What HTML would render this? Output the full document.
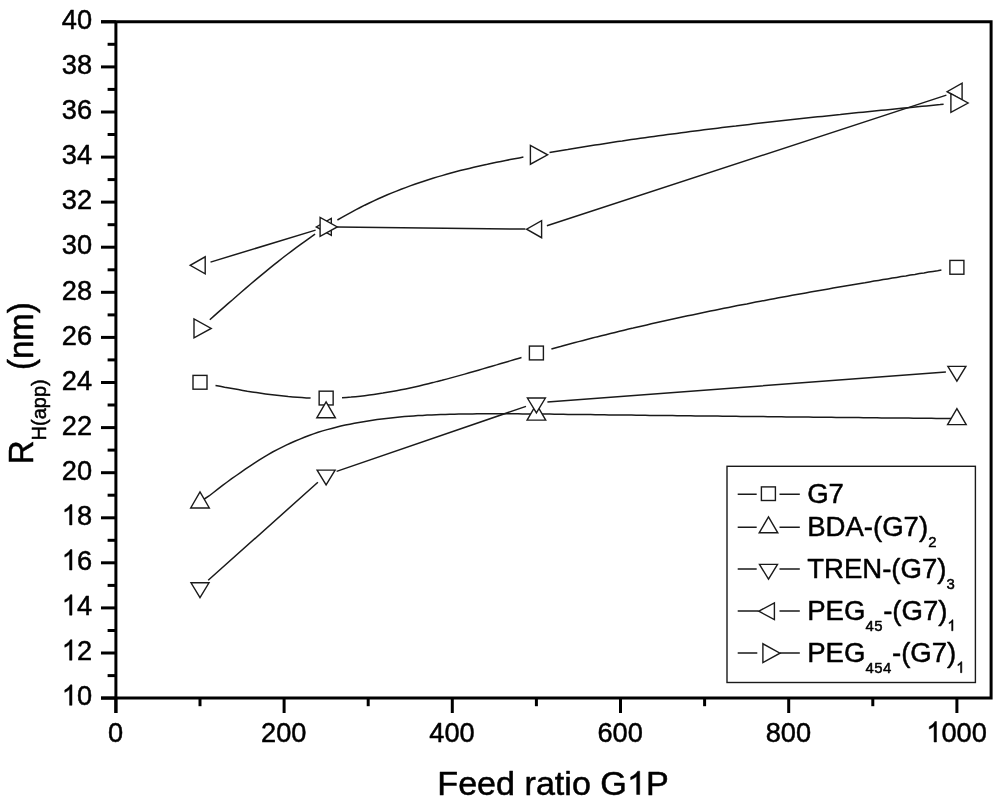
<!DOCTYPE html>
<html><head><meta charset="utf-8"><title>chart</title>
<style>
html,body{margin:0;padding:0;background:#fff;}
svg{display:block;will-change:transform;filter:grayscale(1);font-family:"Liberation Sans",sans-serif;font-kerning:none;}
.ax{stroke:#000;stroke-width:3;fill:none;stroke-linecap:butt}
.ln{stroke:#1a1a1a;stroke-width:1.5;fill:none}
.sy{stroke:#1a1a1a;stroke-width:1.4;fill:#fff;stroke-linejoin:miter}
.tx{fill:#000;stroke:#000;stroke-width:.5px;stroke-linejoin:round}
.tx path{vector-effect:non-scaling-stroke}
</style></head><body>
<svg width="1000" height="805" viewBox="0 0 1000 805">
<rect width="1000" height="805" fill="#fff"/>
<g>
<path class="ln" d="M215.5 385.5 L220.1 386.3 L224.6 387.2 L229.2 388.0 L233.7 388.8 L238.2 389.6 L242.8 390.4 L247.3 391.2 L251.9 391.9 L256.4 392.6 L261.0 393.3 L265.5 393.9 L270.0 394.5 L274.6 395.1 L279.1 395.6 L283.7 396.1 L288.2 396.6 L292.8 397.0 L297.3 397.3 L301.9 397.6 L306.4 397.9 L310.6 398.1 M342.0 397.7 L346.5 397.4 L351.1 397.1 L355.6 396.7 L360.2 396.2 L364.7 395.7 L369.3 395.1 L373.8 394.5 L378.3 393.8 L382.9 393.1 L387.4 392.3 L392.0 391.5 L396.5 390.7 L401.1 389.8 L405.6 388.9 L410.1 387.9 L414.7 386.9 L419.2 385.9 L423.8 384.8 L428.3 383.7 L432.9 382.6 L437.4 381.4 L442.0 380.3 L446.5 379.1 L451.0 377.9 L455.6 376.6 L460.1 375.4 L464.7 374.1 L469.2 372.8 L473.8 371.5 L478.3 370.2 L482.8 368.9 L487.4 367.5 L491.9 366.2 L496.5 364.9 L501.0 363.5 L505.6 362.2 L510.1 360.9 L514.6 359.5 L519.2 358.2 L521.5 357.5 M551.4 349.0 L555.9 347.7 L560.5 346.5 L565.0 345.2 L569.6 344.0 L574.1 342.8 L578.6 341.6 L583.2 340.4 L587.7 339.3 L592.3 338.1 L596.8 336.9 L601.4 335.8 L605.9 334.7 L610.4 333.5 L615.0 332.4 L619.5 331.3 L624.1 330.2 L628.6 329.1 L633.2 328.1 L637.7 327.0 L642.3 325.9 L646.8 324.9 L651.3 323.8 L655.9 322.8 L660.4 321.8 L665.0 320.8 L669.5 319.8 L674.1 318.8 L678.6 317.8 L683.1 316.8 L687.7 315.8 L692.2 314.9 L696.8 313.9 L701.3 313.0 L705.9 312.0 L710.4 311.1 L714.9 310.2 L719.5 309.2 L724.0 308.3 L728.6 307.4 L733.1 306.5 L737.7 305.6 L742.2 304.7 L746.8 303.9 L751.3 303.0 L755.8 302.1 L760.4 301.2 L764.9 300.4 L769.5 299.5 L774.0 298.7 L778.6 297.8 L783.1 297.0 L787.6 296.2 L792.2 295.3 L796.7 294.5 L801.3 293.7 L805.8 292.9 L810.4 292.1 L814.9 291.3 L819.5 290.5 L824.0 289.7 L828.5 288.9 L833.1 288.1 L837.6 287.3 L842.2 286.5 L846.7 285.8 L851.3 285.0 L855.8 284.2 L860.3 283.4 L864.9 282.7 L869.4 281.9 L874.0 281.1 L878.5 280.4 L883.1 279.6 L887.6 278.9 L892.2 278.1 L896.7 277.4 L901.2 276.6 L905.8 275.9 L910.3 275.1 L914.9 274.4 L919.4 273.6 L924.0 272.9 L928.5 272.1 L933.0 271.4 L937.6 270.7 L941.4 270.0"/>
<g class="sy"><rect x="193.00" y="375.39" width="14" height="13.8" /><rect x="319.15" y="391.17" width="14" height="13.8" /><rect x="529.40" y="346.09" width="14" height="13.8" /><rect x="949.90" y="260.42" width="14" height="13.8" /></g>
<path class="ln" d="M199.9 501.5 L204.4 499.0 L209.0 496.0 L213.5 492.5 L218.1 488.9 L222.6 485.4 L227.2 482.0 L231.7 478.7 L236.3 475.5 L240.8 472.3 L245.3 469.2 L249.9 466.1 L254.4 463.1 L259.0 460.1 L263.5 457.3 L268.1 454.6 L272.6 452.0 L277.2 449.6 L281.7 447.3 L286.2 445.1 L290.8 443.0 L295.3 441.0 L299.9 439.1 L304.4 437.3 L309.0 435.5 L313.5 433.9 L318.1 432.3 L322.6 430.9 L327.1 429.6 L331.7 428.4 L336.2 427.2 L340.8 426.1 L345.3 425.1 L349.9 424.2 L354.4 423.3 L358.9 422.5 L363.5 421.7 L368.0 420.9 L372.6 420.2 L377.1 419.6 L381.7 419.0 L386.2 418.4 L390.8 417.9 L395.3 417.5 L399.8 417.0 L404.4 416.6 L408.9 416.3 L413.5 415.9 L418.0 415.6 L422.6 415.4 L427.1 415.1 L431.7 414.9 L436.2 414.7 L440.7 414.6 L445.3 414.4 L449.8 414.3 L454.4 414.2 L458.9 414.1 L463.5 414.0 L468.0 413.9 L472.6 413.9 L477.1 413.8 L481.6 413.8 L486.2 413.8 L490.7 413.7 L495.3 413.7 L499.8 413.7 L504.4 413.8 L508.9 413.8 L513.5 413.8 L518.0 413.8 L522.5 413.9 L527.1 413.9 L531.6 414.0 L536.2 414.0 L540.7 414.0 L545.3 414.1 L549.8 414.1 L554.4 414.2 L558.9 414.2 L563.4 414.3 L568.0 414.4 L572.5 414.4 L577.1 414.5 L581.6 414.5 L586.2 414.6 L590.7 414.6 L595.3 414.7 L599.8 414.7 L604.3 414.8 L608.9 414.9 L613.4 414.9 L618.0 415.0 L622.5 415.0 L627.1 415.1 L631.6 415.1 L636.2 415.2 L640.7 415.3 L645.2 415.3 L649.8 415.4 L654.3 415.4 L658.9 415.5 L663.4 415.5 L668.0 415.6 L672.5 415.6 L677.0 415.7 L681.6 415.7 L686.1 415.8 L690.7 415.8 L695.2 415.9 L699.8 415.9 L704.3 416.0 L708.9 416.0 L713.4 416.1 L717.9 416.1 L722.5 416.2 L727.0 416.2 L731.6 416.3 L736.1 416.3 L740.7 416.4 L745.2 416.4 L749.8 416.5 L754.3 416.5 L758.8 416.6 L763.4 416.6 L767.9 416.7 L772.5 416.7 L777.0 416.8 L781.6 416.8 L786.1 416.9 L790.7 416.9 L795.2 417.0 L799.7 417.0 L804.3 417.1 L808.8 417.1 L813.4 417.2 L817.9 417.2 L822.5 417.3 L827.0 417.3 L831.6 417.3 L836.1 417.4 L840.6 417.4 L845.2 417.5 L849.7 417.5 L854.3 417.6 L858.8 417.6 L863.4 417.7 L867.9 417.7 L872.5 417.8 L877.0 417.8 L881.5 417.9 L886.1 417.9 L890.6 417.9 L895.2 418.0 L899.7 418.0 L904.3 418.1 L908.8 418.1 L913.4 418.2 L917.9 418.2 L922.4 418.3 L927.0 418.3 L931.5 418.3 L936.1 418.4 L940.6 418.4 L945.2 418.5 L949.7 418.5 L954.2 418.6 L956.9 418.6"/>
<g class="sy"><path d="M190.7 508.0 L209.3 508.0 L200.0 492.0 Z"/><path d="M316.8 417.8 L335.4 417.8 L326.1 401.8 Z"/><path d="M527.1 420.1 L545.7 420.1 L536.4 404.1 Z"/><path d="M947.6 424.6 L966.2 424.6 L956.9 408.6 Z"/></g>
<path class="ln" d="M208.2 580.3 L317.9 482.3 M336.6 471.4 L526.0 406.4 M547.4 402.0 L945.9 372.0"/>
<g class="sy"><path d="M191.0 582.8 L209.0 582.8 L200.0 597.6 Z"/><path d="M317.1 470.1 L335.1 470.1 L326.1 484.9 Z"/><path d="M527.4 398.0 L545.4 398.0 L536.4 412.8 Z"/><path d="M947.9 366.4 L965.9 366.4 L956.9 381.2 Z"/></g>
<path class="ln" d="M210.5 262.1 L315.6 230.1 M337.1 227.1 L525.4 229.1 M546.9 225.8 L946.4 95.1"/>
<g class="sy"><path d="M205.2 256.8 L205.2 273.8 L190.2 265.3 Z"/><path d="M331.3 218.4 L331.3 235.4 L316.3 226.9 Z"/><path d="M541.6 220.7 L541.6 237.7 L526.6 229.2 Z"/><path d="M962.1 83.2 L962.1 100.2 L947.1 91.7 Z"/></g>
<path class="ln" d="M209.8 319.7 L214.4 315.6 L218.9 311.6 L223.5 307.6 L228.0 303.6 L232.6 299.7 L237.1 295.7 L241.7 291.8 L246.2 287.9 L250.7 284.0 L255.3 280.2 L259.8 276.4 L264.4 272.6 L268.9 268.9 L273.5 265.2 L278.0 261.6 L282.5 258.0 L287.1 254.5 L291.6 251.1 L296.2 247.7 L300.7 244.3 L305.3 241.1 L309.8 237.9 L314.3 234.7 L315.1 234.2 M337.4 220.0 L342.0 217.4 L346.5 214.8 L351.1 212.3 L355.6 209.9 L360.2 207.5 L364.7 205.2 L369.3 203.0 L373.8 200.9 L378.3 198.8 L382.9 196.8 L387.4 194.8 L392.0 192.9 L396.5 191.1 L401.1 189.3 L405.6 187.6 L410.1 185.9 L414.7 184.3 L419.2 182.7 L423.8 181.2 L428.3 179.7 L432.9 178.3 L437.4 176.9 L442.0 175.6 L446.5 174.3 L451.0 173.0 L455.6 171.8 L460.1 170.6 L464.7 169.5 L469.2 168.4 L473.8 167.3 L478.3 166.3 L482.8 165.2 L487.4 164.3 L491.9 163.3 L496.5 162.3 L501.0 161.4 L505.6 160.5 L510.1 159.6 L514.6 158.8 L519.2 157.9 L523.4 157.1 M549.5 152.5 L554.0 151.8 L558.6 151.0 L563.1 150.2 L567.7 149.5 L572.2 148.7 L576.7 148.0 L581.3 147.2 L585.8 146.5 L590.4 145.8 L594.9 145.1 L599.5 144.4 L604.0 143.7 L608.6 143.0 L613.1 142.3 L617.6 141.6 L622.2 141.0 L626.7 140.3 L631.3 139.6 L635.8 139.0 L640.4 138.3 L644.9 137.7 L649.4 137.1 L654.0 136.4 L658.5 135.8 L663.1 135.2 L667.6 134.6 L672.2 134.0 L676.7 133.4 L681.3 132.8 L685.8 132.2 L690.3 131.6 L694.9 131.0 L699.4 130.4 L704.0 129.8 L708.5 129.3 L713.1 128.7 L717.6 128.2 L722.1 127.6 L726.7 127.0 L731.2 126.5 L735.8 126.0 L740.3 125.4 L744.9 124.9 L749.4 124.4 L753.9 123.8 L758.5 123.3 L763.0 122.8 L767.6 122.3 L772.1 121.8 L776.7 121.3 L781.2 120.8 L785.8 120.3 L790.3 119.8 L794.8 119.3 L799.4 118.8 L803.9 118.3 L808.5 117.8 L813.0 117.3 L817.6 116.8 L822.1 116.4 L826.6 115.9 L831.2 115.4 L835.7 114.9 L840.3 114.5 L844.8 114.0 L849.4 113.5 L853.9 113.1 L858.5 112.6 L863.0 112.2 L867.5 111.7 L872.1 111.2 L876.6 110.8 L881.2 110.3 L885.7 109.9 L890.3 109.4 L894.8 109.0 L899.3 108.5 L903.9 108.1 L908.4 107.7 L913.0 107.2 L917.5 106.8 L922.1 106.3 L926.6 105.9 L931.2 105.4 L935.7 105.0 L940.2 104.6 L943.6 104.2"/>
<g class="sy"><path d="M194.0 319.0 L194.0 337.8 L211.2 328.4 Z"/><path d="M320.1 217.5 L320.1 236.3 L337.3 226.9 Z"/><path d="M530.4 145.4 L530.4 164.2 L547.6 154.8 Z"/><path d="M950.9 93.6 L950.9 112.4 L968.1 103.0 Z"/></g>
</g>
<g class="ax">
<path d="M101 21.8 H991.1 V698.1 H101"/>
<line x1="115.9" x2="115.9" y1="21.8" y2="713"/>
<line x1="101" x2="115.9" y1="698.1" y2="698.1"/>
<line x1="107.6" x2="115.9" y1="675.6" y2="675.6"/>
<line x1="101" x2="115.9" y1="653.0" y2="653.0"/>
<line x1="107.6" x2="115.9" y1="630.5" y2="630.5"/>
<line x1="101" x2="115.9" y1="607.9" y2="607.9"/>
<line x1="107.6" x2="115.9" y1="585.4" y2="585.4"/>
<line x1="101" x2="115.9" y1="562.8" y2="562.8"/>
<line x1="107.6" x2="115.9" y1="540.3" y2="540.3"/>
<line x1="101" x2="115.9" y1="517.8" y2="517.8"/>
<line x1="107.6" x2="115.9" y1="495.2" y2="495.2"/>
<line x1="101" x2="115.9" y1="472.7" y2="472.7"/>
<line x1="107.6" x2="115.9" y1="450.1" y2="450.1"/>
<line x1="101" x2="115.9" y1="427.6" y2="427.6"/>
<line x1="107.6" x2="115.9" y1="405.0" y2="405.0"/>
<line x1="101" x2="115.9" y1="382.5" y2="382.5"/>
<line x1="107.6" x2="115.9" y1="359.9" y2="359.9"/>
<line x1="101" x2="115.9" y1="337.4" y2="337.4"/>
<line x1="107.6" x2="115.9" y1="314.9" y2="314.9"/>
<line x1="101" x2="115.9" y1="292.3" y2="292.3"/>
<line x1="107.6" x2="115.9" y1="269.8" y2="269.8"/>
<line x1="101" x2="115.9" y1="247.2" y2="247.2"/>
<line x1="107.6" x2="115.9" y1="224.7" y2="224.7"/>
<line x1="101" x2="115.9" y1="202.1" y2="202.1"/>
<line x1="107.6" x2="115.9" y1="179.6" y2="179.6"/>
<line x1="101" x2="115.9" y1="157.1" y2="157.1"/>
<line x1="107.6" x2="115.9" y1="134.5" y2="134.5"/>
<line x1="101" x2="115.9" y1="112.0" y2="112.0"/>
<line x1="107.6" x2="115.9" y1="89.4" y2="89.4"/>
<line x1="101" x2="115.9" y1="66.9" y2="66.9"/>
<line x1="107.6" x2="115.9" y1="44.3" y2="44.3"/>
<line x1="101" x2="115.9" y1="21.8" y2="21.8"/>
<line y1="698.1" y2="713" x1="115.9" x2="115.9"/>
<line y1="698.1" y2="706.2" x1="200.0" x2="200.0"/>
<line y1="698.1" y2="713" x1="284.1" x2="284.1"/>
<line y1="698.1" y2="706.2" x1="368.2" x2="368.2"/>
<line y1="698.1" y2="713" x1="452.3" x2="452.3"/>
<line y1="698.1" y2="706.2" x1="536.4" x2="536.4"/>
<line y1="698.1" y2="713" x1="620.5" x2="620.5"/>
<line y1="698.1" y2="706.2" x1="704.6" x2="704.6"/>
<line y1="698.1" y2="713" x1="788.7" x2="788.7"/>
<line y1="698.1" y2="706.2" x1="872.8" x2="872.8"/>
<line y1="698.1" y2="713" x1="956.9" x2="956.9"/>
</g>
<g>
<g class="tx" transform="translate(92.10,705.30) scale(0.955,1)"><path transform="translate(-31.70,0.00) scale(0.01392,-0.01392)" d="M763 0H583V1147Q518 1085 413 1023T223 930V1104Q373 1175 486 1275T644 1470H763V0Z"/><text x="-15.85" y="0.00" font-size="28.5" letter-spacing="0">0</text></g>
<g class="tx" transform="translate(92.10,660.21) scale(0.955,1)"><path transform="translate(-31.70,0.00) scale(0.01392,-0.01392)" d="M763 0H583V1147Q518 1085 413 1023T223 930V1104Q373 1175 486 1275T644 1470H763V0Z"/><text x="-15.85" y="0.00" font-size="28.5" letter-spacing="0">2</text></g>
<g class="tx" transform="translate(92.10,615.13) scale(0.955,1)"><path transform="translate(-31.70,0.00) scale(0.01392,-0.01392)" d="M763 0H583V1147Q518 1085 413 1023T223 930V1104Q373 1175 486 1275T644 1470H763V0Z"/><text x="-15.85" y="0.00" font-size="28.5" letter-spacing="0">4</text></g>
<g class="tx" transform="translate(92.10,570.04) scale(0.955,1)"><path transform="translate(-31.70,0.00) scale(0.01392,-0.01392)" d="M763 0H583V1147Q518 1085 413 1023T223 930V1104Q373 1175 486 1275T644 1470H763V0Z"/><text x="-15.85" y="0.00" font-size="28.5" letter-spacing="0">6</text></g>
<g class="tx" transform="translate(92.10,524.95) scale(0.955,1)"><path transform="translate(-31.70,0.00) scale(0.01392,-0.01392)" d="M763 0H583V1147Q518 1085 413 1023T223 930V1104Q373 1175 486 1275T644 1470H763V0Z"/><text x="-15.85" y="0.00" font-size="28.5" letter-spacing="0">8</text></g>
<g class="tx" transform="translate(92.10,479.87) scale(0.955,1)"><text x="-31.70" y="0.00" font-size="28.5" letter-spacing="0">20</text></g>
<g class="tx" transform="translate(92.10,434.78) scale(0.955,1)"><text x="-31.70" y="0.00" font-size="28.5" letter-spacing="0">22</text></g>
<g class="tx" transform="translate(92.10,389.69) scale(0.955,1)"><text x="-31.70" y="0.00" font-size="28.5" letter-spacing="0">24</text></g>
<g class="tx" transform="translate(92.10,344.61) scale(0.955,1)"><text x="-31.70" y="0.00" font-size="28.5" letter-spacing="0">26</text></g>
<g class="tx" transform="translate(92.10,299.52) scale(0.955,1)"><text x="-31.70" y="0.00" font-size="28.5" letter-spacing="0">28</text></g>
<g class="tx" transform="translate(92.10,254.43) scale(0.955,1)"><text x="-31.70" y="0.00" font-size="28.5" letter-spacing="0">30</text></g>
<g class="tx" transform="translate(92.10,209.35) scale(0.955,1)"><text x="-31.70" y="0.00" font-size="28.5" letter-spacing="0">32</text></g>
<g class="tx" transform="translate(92.10,164.26) scale(0.955,1)"><text x="-31.70" y="0.00" font-size="28.5" letter-spacing="0">34</text></g>
<g class="tx" transform="translate(92.10,119.17) scale(0.955,1)"><text x="-31.70" y="0.00" font-size="28.5" letter-spacing="0">36</text></g>
<g class="tx" transform="translate(92.10,74.09) scale(0.955,1)"><text x="-31.70" y="0.00" font-size="28.5" letter-spacing="0">38</text></g>
<g class="tx" transform="translate(92.10,29.00) scale(0.955,1)"><text x="-31.70" y="0.00" font-size="28.5" letter-spacing="0">40</text></g>
<g class="tx" transform="translate(115.60,742.00) scale(0.955,1)"><text x="-7.93" y="0.00" font-size="28.5" letter-spacing="0">0</text></g>
<g class="tx" transform="translate(283.80,742.00) scale(0.955,1)"><text x="-23.78" y="0.00" font-size="28.5" letter-spacing="0">200</text></g>
<g class="tx" transform="translate(452.00,742.00) scale(0.955,1)"><text x="-23.78" y="0.00" font-size="28.5" letter-spacing="0">400</text></g>
<g class="tx" transform="translate(620.20,742.00) scale(0.955,1)"><text x="-23.78" y="0.00" font-size="28.5" letter-spacing="0">600</text></g>
<g class="tx" transform="translate(788.40,742.00) scale(0.955,1)"><text x="-23.78" y="0.00" font-size="28.5" letter-spacing="0">800</text></g>
<g class="tx" transform="translate(956.60,742.00) scale(0.955,1)"><path transform="translate(-31.70,0.00) scale(0.01392,-0.01392)" d="M763 0H583V1147Q518 1085 413 1023T223 930V1104Q373 1175 486 1275T644 1470H763V0Z"/><text x="-15.85" y="0.00" font-size="28.5" letter-spacing="0">000</text></g>
</g>
<g class="tx" transform="translate(553.00,794.50) scale(1.05,1)"><text x="-110.20" y="0.00" font-size="32.5" letter-spacing="0">Feed ratio G</text><path transform="translate(70.44,0.00) scale(0.01587,-0.01587)" d="M763 0H583V1147Q518 1085 413 1023T223 930V1104Q373 1175 486 1275T644 1470H763V0Z"/><text x="88.52" y="0.00" font-size="32.5" letter-spacing="0">P</text></g>
<g class="tx" transform="translate(33.40,464.20) scale(1.05,1) rotate(-90)"><text x="0.00" y="0.00" font-size="33" letter-spacing="0">R</text><text x="23.83" y="12.00" font-size="20" letter-spacing="0">H(app)</text><text x="84.97" y="0.00" font-size="33" letter-spacing="0">&#160;(nm)</text></g>
<rect x="727" y="466.3" width="248.4" height="216.2" fill="#fff" stroke="#1a1a1a" stroke-width="1.4"/>
<g class="ln">
<path d="M737.7 494.3 H756.7 M779.5 494.3 H799.8"/>
<path d="M737.7 527.3 H756.7 M779.5 527.3 H799.8"/>
<path d="M737.7 569 H756.7 M779.5 569 H799.8"/>
<path d="M737.7 611 H758.7 M779.5 611 H799.8"/>
<path d="M737.7 653 H757.3 M780 653 H799.8"/>
</g>
<g class="sy">
<rect x="761.4" y="486.9" width="14" height="13.6"/>
<path d="M759.2 532.8 L777.8 532.8 L768.5 516.8 Z"/>
<path d="M759.5 564.4 L777.5 564.4 L768.5 579.2 Z"/>
<path d="M774.4 602.8 L774.4 619.6 L758.8 611.2 Z"/>
<path d="M762.9 643.8 L762.9 662.6 L780 653.2 Z"/>
</g>
<g class="tx" transform="translate(807.20,502.70) scale(0.967,1)"><text x="0.00" y="0.00" font-size="28.5" letter-spacing="0">G7</text></g>
<g class="tx" transform="translate(807.20,535.70) scale(0.967,1)"><text x="0.00" y="0.00" font-size="28.5" letter-spacing="0">BDA-(G7)</text><text x="125.09" y="11.20" font-size="15.4" letter-spacing="0.6">2</text></g>
<g class="tx" transform="translate(807.20,578.20) scale(0.967,1)"><text x="0.00" y="0.00" font-size="28.5" letter-spacing="0">TREN-(G7)</text><text x="144.07" y="10.70" font-size="15.4" letter-spacing="0.6">3</text></g>
<g class="tx" transform="translate(807.20,620.10) scale(0.967,1)"><text x="0.00" y="0.00" font-size="28.5" letter-spacing="0">PEG</text><text x="60.19" y="10.70" font-size="15.4" letter-spacing="0.6">45</text><text x="78.52" y="0.00" font-size="28.5" letter-spacing="0">-(G7)</text><path transform="translate(145.01,10.70) scale(0.00752,-0.00752)" d="M763 0H583V1147Q518 1085 413 1023T223 930V1104Q373 1175 486 1275T644 1470H763V0Z"/></g>
<g class="tx" transform="translate(807.20,662.00) scale(0.967,1)"><text x="0.00" y="0.00" font-size="28.5" letter-spacing="0">PEG</text><text x="60.19" y="10.70" font-size="15.4" letter-spacing="0.6">454</text><text x="87.68" y="0.00" font-size="28.5" letter-spacing="0">-(G7)</text><path transform="translate(154.17,10.70) scale(0.00752,-0.00752)" d="M763 0H583V1147Q518 1085 413 1023T223 930V1104Q373 1175 486 1275T644 1470H763V0Z"/></g>
</svg>
</body></html>
